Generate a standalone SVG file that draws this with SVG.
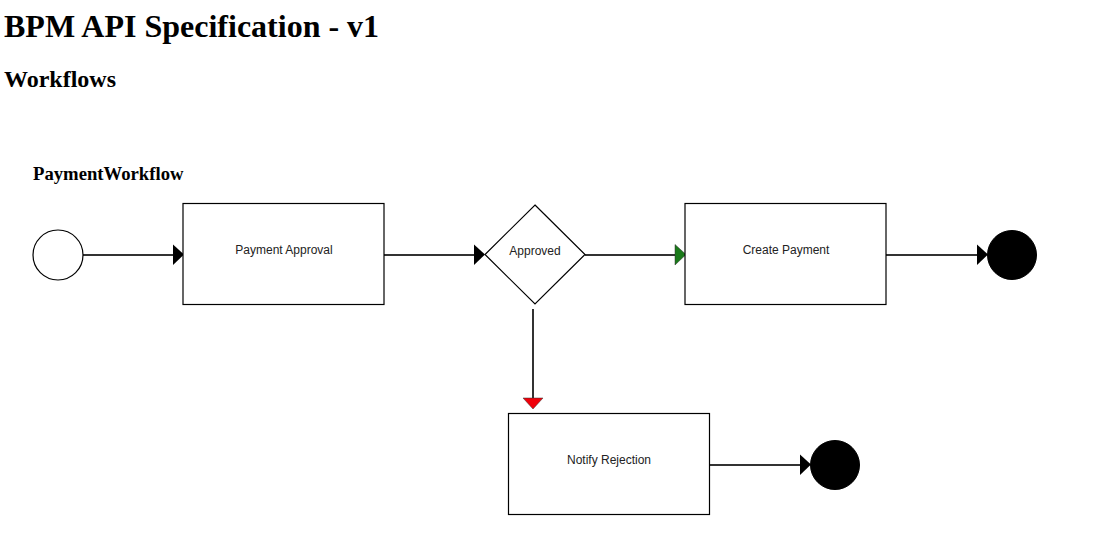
<svg xmlns="http://www.w3.org/2000/svg" width="1118" height="537" viewBox="0 0 1118 537">
<style>
.h{font-family:"Liberation Serif",serif;font-weight:bold;fill:#000}
.n{fill:#fff;stroke:#000;stroke-width:1.2}
.t{font-family:"Liberation Sans",Arial,sans-serif;font-size:12px;fill:#222;text-anchor:middle}
.c{stroke:#333;stroke-width:2;fill:none}
.end{fill:#000;stroke:#000}
</style>
<rect width="1118" height="537" fill="#fff"/>
<text class="h" x="4" y="37" font-size="32">BPM API Specification - v1</text>
<text class="h" x="4" y="87" font-size="24">Workflows</text>
<text class="h" x="33" y="180" font-size="18.7">PaymentWorkflow</text>
<g id="connectors">
<line class="c" x1="83" y1="255" x2="174" y2="255"/>
<polygon points="173,244.5 184,254.5 173,265" fill="#000"/>
<line class="c" x1="384" y1="255" x2="475" y2="255"/>
<polygon points="474,244.5 485,254.5 474,265" fill="#000"/>
<line class="c" x1="585" y1="255" x2="676" y2="255"/>
<polygon points="675,244.5 686,254.5 675,265" fill="#1a7a1a" stroke="#333" stroke-width="0.5"/>
<line class="c" x1="886" y1="255" x2="978" y2="255"/>
<polygon points="977,244.5 988,254.5 977,265" fill="#000"/>
<line class="c" x1="533" y1="309" x2="533" y2="399"/>
<polygon points="523,398 543,398 533,409" fill="#f0000a" stroke="#333" stroke-width="0.5"/>
<line class="c" x1="709" y1="465" x2="801" y2="465"/>
<polygon points="800,454.5 811,464.5 800,475" fill="#000"/>
</g>
<g id="start"><circle class="n" cx="58" cy="255" r="25"/></g>
<g id="paymentApproval"><rect class="n" x="183" y="203.5" width="201" height="101"/><text class="t" x="284" y="254">Payment Approval</text></g>
<g id="approved"><polygon class="n" points="535,205 585,254.5 535,304 485,254.5"/><text class="t" x="535" y="255">Approved</text></g>
<g id="createPayment"><rect class="n" x="685" y="203.5" width="201" height="101"/><text class="t" x="786" y="254">Create Payment</text></g>
<g id="end1"><circle class="end" cx="1012" cy="255" r="24.5"/></g>
<g id="notifyRejection"><rect class="n" x="508.5" y="413.5" width="201" height="101"/><text class="t" x="609" y="464">Notify Rejection</text></g>
<g id="end2"><circle class="end" cx="835" cy="465" r="24.5"/></g>
</svg>
